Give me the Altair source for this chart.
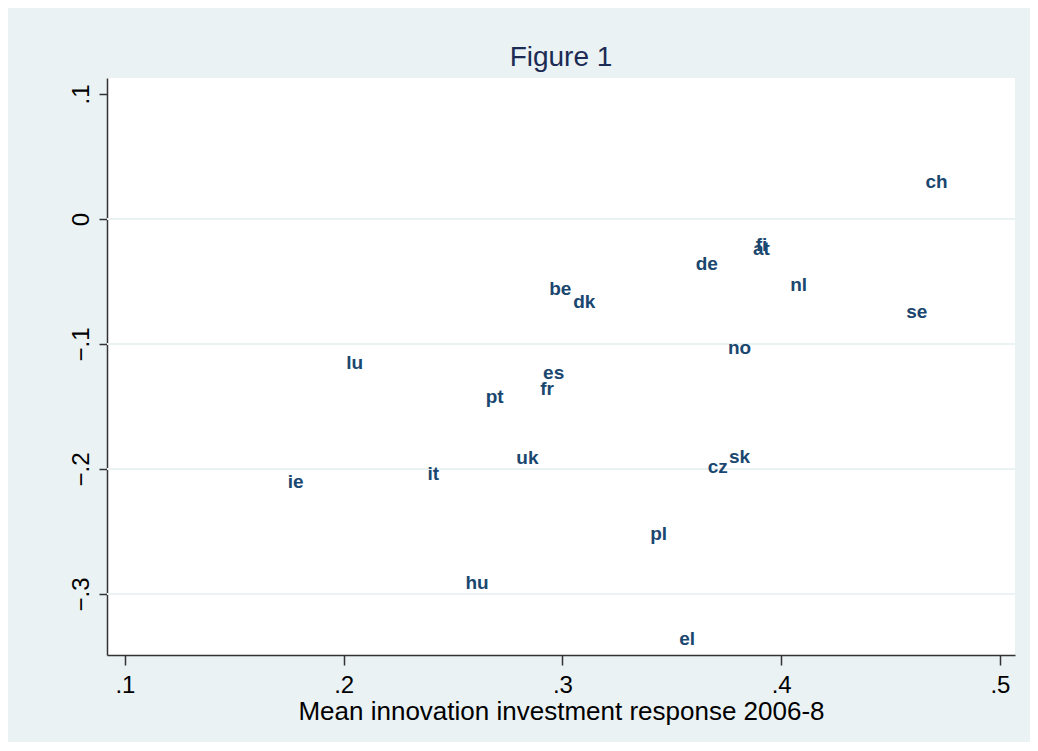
import altair as alt
import pandas as pd

countries = ["ch", "fi", "at", "de", "nl", "se", "be", "dk", "no", "lu", "es",
             "fr", "pt", "uk", "sk", "cz", "it", "ie", "pl", "hu", "el"]
innovation = [0.471, 0.391, 0.391, 0.366, 0.408, 0.462, 0.299, 0.310, 0.381, 0.205, 0.296,
              0.293, 0.269, 0.284, 0.381, 0.371, 0.241, 0.178, 0.344, 0.261, 0.357]
outcome = [0.030, -0.021, -0.024, -0.036, -0.053, -0.074, -0.056, -0.066, -0.103, -0.115, -0.123,
           -0.136, -0.142, -0.191, -0.190, -0.198, -0.204, -0.210, -0.252, -0.291, -0.336]

x_ticks = [0.1, 0.2, 0.3, 0.4, 0.5]
y_ticks = [-0.3, -0.2, -0.1, 0.0, 0.1]
grid_values = [0.0, -0.1, -0.2, -0.3]

df = pd.DataFrame({"country": countries, "x": innovation, "y": outcome})
grid_df = pd.DataFrame({"g": grid_values})

FONT = "Liberation Sans"
label_expr = "datum.value == 0 ? '0' : replace(format(datum.value, '.1f'), '0.', '.')"

xscale = alt.Scale(domain=[0.0918, 0.5069], nice=False, zero=False)
yscale = alt.Scale(domain=[-0.3488, 0.1128], nice=False, zero=False)

grid = alt.Chart(grid_df).mark_rule(color="#EAF2F3", strokeWidth=2).encode(
    y=alt.Y("g:Q", scale=yscale)
)

labels = alt.Chart(df).mark_text(
    font=FONT, fontSize=19, fontWeight="bold", color="#1a476f",
    align="center", baseline="middle"
).encode(
    x=alt.X("x:Q", scale=xscale,
            axis=alt.Axis(values=x_ticks, labelExpr=label_expr, grid=False,
                          title="Mean innovation investment response 2006-8",
                          titleFont=FONT, titleFontSize=26, titleFontWeight="normal",
                          titleColor="black", titleY=64, titleBaseline="alphabetic",
                          labelFont=FONT, labelFontSize=24, labelColor="black",
                          labelPadding=8, tickSize=10, tickColor="#333333",
                          domainColor="#333333", domainWidth=1.5, tickWidth=1.5)),
    y=alt.Y("y:Q", scale=yscale,
            axis=alt.Axis(values=y_ticks, labelExpr=label_expr, grid=False, title=None,
                          labelFont=FONT, labelFontSize=24, labelColor="black",
                          labelAngle=270, labelAlign="center", labelBaseline="alphabetic",
                          labelPadding=11, tickSize=8, tickColor="#333333",
                          domainColor="#333333", domainWidth=1.5, tickWidth=1.5)),
    text="country:N",
)

chart = alt.layer(grid, labels).properties(
    width=908, height=577,
    title=alt.TitleParams("Figure 1", font=FONT, fontSize=28, fontWeight="normal",
                          color="#1c2b54", anchor="middle", baseline="alphabetic",
                          offset=12, dy=28),
    autosize=alt.AutoSizeParams(type="none"),
    padding={"left": 99, "top": 70, "right": 15, "bottom": 87},
    background="#EAF2F3",
).configure_view(fill="white", stroke=None)

chart.save("out.html", embed_options={"renderer": "svg", "actions": False})
